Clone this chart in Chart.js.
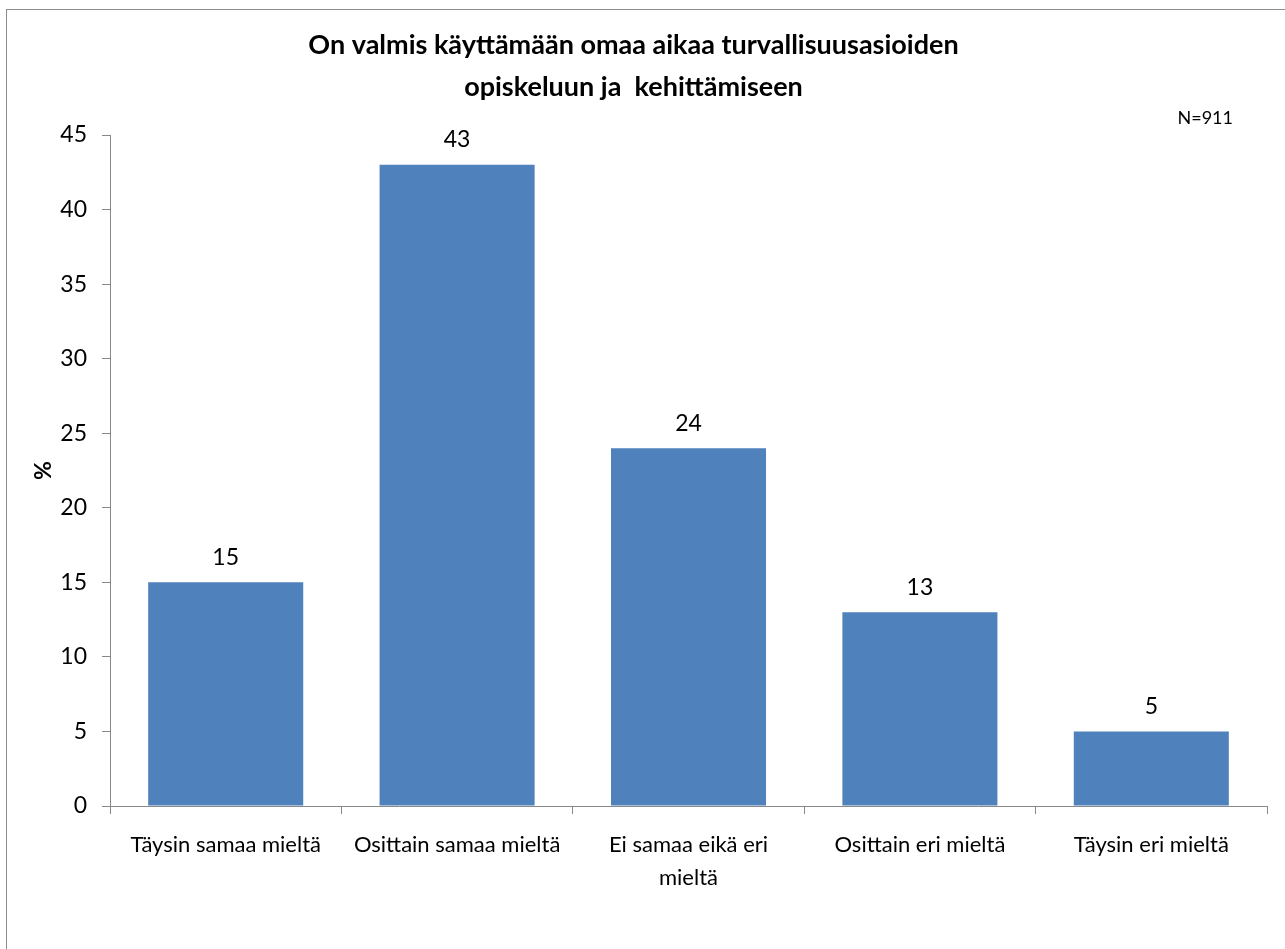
<!DOCTYPE html>
<html>
<head>
<meta charset="utf-8">
<title>Turvallisuusasioiden opiskelu</title>
<script src="https://cdn.jsdelivr.net/npm/chart.js@4/dist/chart.umd.min.js"></script>
<style>
    html, body { margin: 0; padding: 0; background: #fff; }
    canvas { display: block; }
</style>
</head>
<body>
<canvas id="barChart" width="1285" height="949"></canvas>
<script>
const titleLines = ['On valmis käyttämään omaa aikaa turvallisuusasioiden', 'opiskeluun ja  kehittämiseen'];
const categories = ['Täysin samaa mieltä', 'Osittain samaa mieltä', ['Ei samaa eikä eri', 'mieltä'], 'Osittain eri mieltä', 'Täysin eri mieltä'];
const percentages = [15, 43, 24, 13, 5];
const yMax = 45;
const yStep = 5;
const sampleNote = 'N=911';

const FONT = 'Lato, "Open Sans", sans-serif';
const AXIS_COLOR = '#888888';
const TEXT_COLOR = '#000000';

// white background and the thin outer frame
const framePlugin = {
    id: 'frame',
    beforeDraw(chart) {
        const ctx = chart.ctx;
        ctx.save();
        ctx.fillStyle = '#ffffff';
        ctx.fillRect(0, 0, chart.width, chart.height);
        ctx.strokeStyle = '#8c8c8c';
        ctx.lineWidth = 1;
        ctx.strokeRect(6.5, 9.5, chart.width + 20, chart.height + 20);
        ctx.restore();
    }
};

// value above each bar
const barValuesPlugin = {
    id: 'barValues',
    afterDatasetsDraw(chart) {
        const ctx = chart.ctx;
        const meta = chart.getDatasetMeta(0);
        ctx.save();
        ctx.font = '23px ' + FONT;
        ctx.fillStyle = TEXT_COLOR;
        ctx.textAlign = 'center';
        ctx.textBaseline = 'middle';
        meta.data.forEach((bar, i) => {
            ctx.fillText(String(chart.data.datasets[0].data[i]), bar.x, bar.y - 25);
        });
        ctx.restore();
    }
};

// sample size in the top right corner
const notePlugin = {
    id: 'note',
    afterDraw(chart) {
        const ctx = chart.ctx;
        ctx.save();
        ctx.font = '18px ' + FONT;
        ctx.fillStyle = TEXT_COLOR;
        ctx.textAlign = 'right';
        ctx.textBaseline = 'middle';
        ctx.fillText(sampleNote, chart.chartArea.right - 34, 118);
        ctx.restore();
    }
};

const ctx = document.getElementById('barChart').getContext('2d');
const chart = new Chart(ctx, {
    type: 'bar',
    data: {
        labels: categories,
        datasets: [{
            data: percentages,
            backgroundColor: '#4f81bd',
            borderWidth: 0,
            categoryPercentage: 1.0,
            barPercentage: 0.67
        }]
    },
    options: {
        responsive: false,
        animation: false,
        devicePixelRatio: 1,
        layout: {
            padding: { left: 0, right: 18, top: 0, bottom: 0 }
        },
        plugins: {
            legend: { display: false },
            tooltip: { enabled: false },
            title: {
                display: true,
                text: titleLines,
                color: TEXT_COLOR,
                font: { family: FONT, size: 27, weight: 'bold', lineHeight: 1.556 },
                padding: { top: 24, bottom: 27 }
            }
        },
        scales: {
            x: {
                grid: {
                    display: true,
                    offset: true,
                    drawOnChartArea: false,
                    drawTicks: true,
                    tickLength: 8,
                    color: AXIS_COLOR
                },
                border: { display: true, color: AXIS_COLOR, width: 1 },
                ticks: {
                    color: TEXT_COLOR,
                    font: { family: FONT, size: 22, lineHeight: 1.5 },
                    padding: 14,
                    maxRotation: 0,
                    autoSkip: false
                },
                afterFit(scale) {
                    scale.height = 143;
                }
            },
            y: {
                min: 0,
                max: yMax,
                grid: {
                    display: true,
                    drawOnChartArea: false,
                    drawTicks: true,
                    tickLength: 8,
                    color: AXIS_COLOR
                },
                border: { display: true, color: AXIS_COLOR, width: 1 },
                ticks: {
                    stepSize: yStep,
                    color: TEXT_COLOR,
                    font: { family: FONT, size: 23 },
                    padding: 15
                },
                title: {
                    display: true,
                    text: '%',
                    color: TEXT_COLOR,
                    font: { family: FONT, size: 23, weight: 'bold' },
                    padding: { top: 30, bottom: 0 }
                },
                afterFit(scale) {
                    scale.width = 110;
                }
            }
        }
    },
    plugins: [framePlugin, barValuesPlugin, notePlugin]
});
</script>
</body>
</html>
